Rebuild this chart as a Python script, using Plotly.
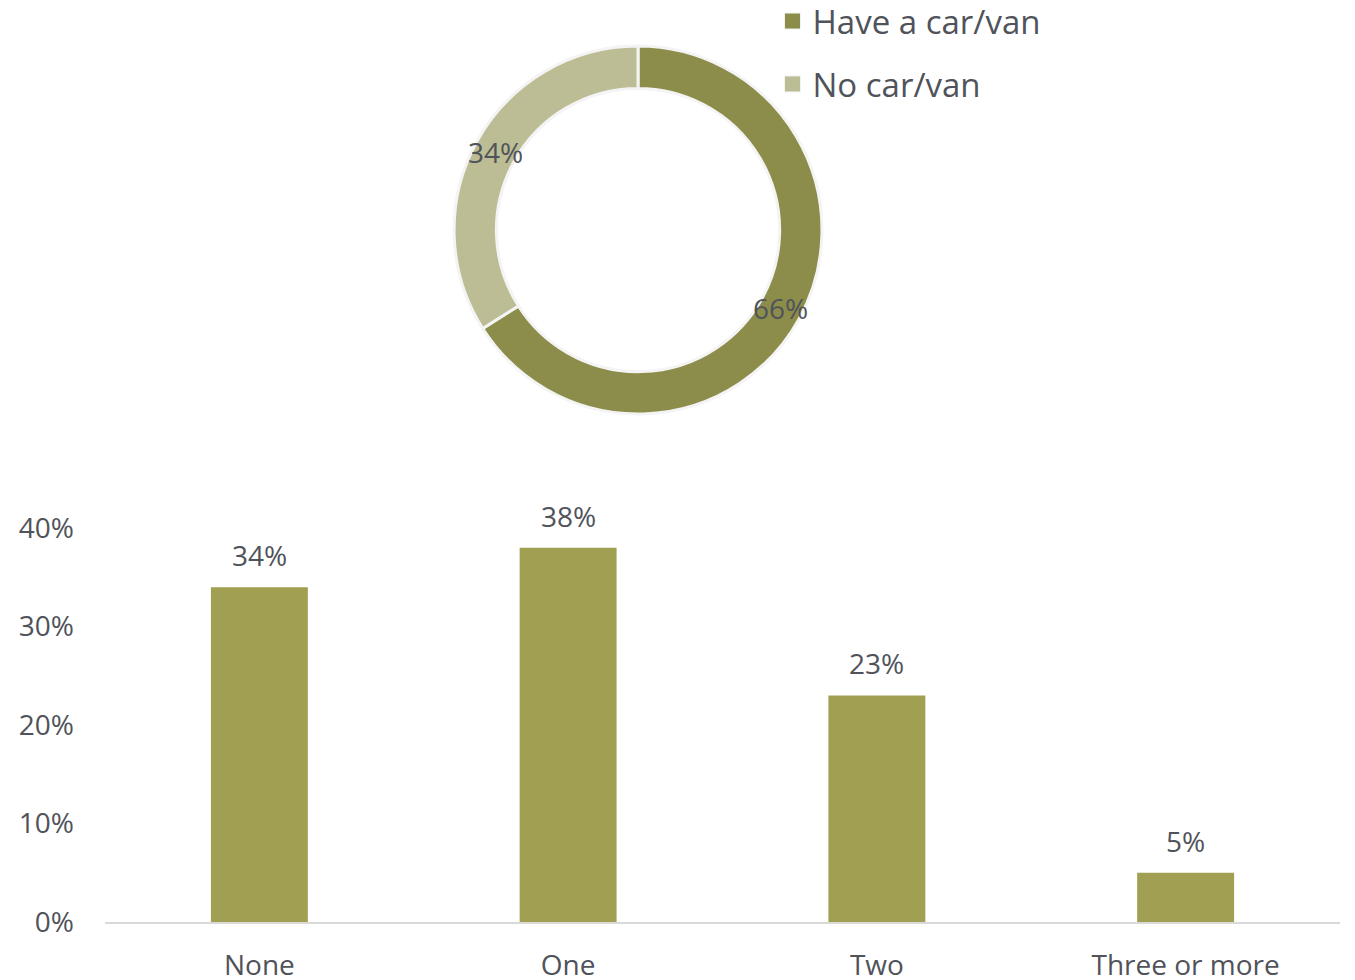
import math
import plotly.graph_objects as go

# Car/van availability split (donut)
ownership_labels = ["Have a car/van", "No car/van"]
ownership_values = [66, 34]
ownership_colors = ["#8C8D4A", "#BCBD95"]

# Number of cars/vans per household (bars)
car_categories = ["None", "One", "Two", "Three or more"]
car_shares = [34, 38, 23, 5]

y_ticks = [0, 10, 20, 30, 40]
y_tick_text = ["0%", "10%", "20%", "30%", "40%"]

FONT = "Open Sans"
TEXT = "#50535A"

W, H = 1355, 980
M_L, M_R, M_T, M_B = 105, 15, 0, 58
PLOT_W = W - M_L - M_R
PLOT_H = H - M_T - M_B

PIE_X = [0.2826, 0.5806]
PIE_Y = [0.551, 0.950]
HOLE = 0.77

fig = go.Figure()

fig.add_trace(go.Bar(
    x=car_categories,
    y=car_shares,
    marker=dict(color="#A1A052", line=dict(width=0)),
    showlegend=False,
))

# Value labels above each bar
for cat, val in zip(car_categories, car_shares):
    fig.add_annotation(
        x=cat, y=val, xref="x", yref="y",
        xanchor="center", yanchor="middle", yshift=32,
        text=f"{val}%", showarrow=False,
        font=dict(family=FONT, size=28, color=TEXT),
    )

fig.add_trace(go.Pie(
    labels=ownership_labels,
    values=ownership_values,
    hole=HOLE,
    sort=False,
    direction="clockwise",
    rotation=0,
    marker=dict(colors=ownership_colors, line=dict(color="#F4F4F4", width=3)),
    textinfo="none",
    domain=dict(x=PIE_X, y=PIE_Y),
    showlegend=False,
))

# Percent labels sit on the middle of the ring at each slice's mid-angle
cx = (PIE_X[0] + PIE_X[1]) / 2
cy = (PIE_Y[0] + PIE_Y[1]) / 2
outer_px = min((PIE_X[1] - PIE_X[0]) * PLOT_W, (PIE_Y[1] - PIE_Y[0]) * PLOT_H) / 2
mid_px = outer_px * (1 + HOLE) / 2
total = sum(ownership_values)
running = 0
for v in ownership_values:
    theta = 2 * math.pi * (running + v / 2) / total
    running += v
    fig.add_annotation(
        x=cx + mid_px * math.sin(theta) / PLOT_W,
        y=cy + mid_px * math.cos(theta) / PLOT_H,
        xref="paper", yref="paper",
        xanchor="center", yanchor="middle",
        text=f"{v}%", showarrow=False,
        font=dict(family=FONT, size=28, color=TEXT),
    )

# Legend entries for the donut slices
for i, (lab, col) in enumerate(zip(ownership_labels, ownership_colors)):
    fig.add_trace(go.Scatter(
        x=[car_categories[0]], y=[None], mode="markers", name=lab,
        legendgroup=f"g{i}",
        marker=dict(symbol="square", size=17, color=col, line=dict(color="#F2F2F2", width=1)),
        showlegend=True,
    ))

fig.update_layout(
    width=W,
    height=H,
    margin=dict(l=M_L, r=M_R, t=M_T, b=M_B, autoexpand=False),
    paper_bgcolor="white",
    plot_bgcolor="white",
    font=dict(family=FONT, color=TEXT, size=28),
    bargap=0.686,
    legend=dict(
        x=0.5405, y=1.0075, xanchor="left", yanchor="top",
        font=dict(family=FONT, size=33, color=TEXT),
        bgcolor="rgba(0,0,0,0)",
        tracegroupgap=17,
        itemwidth=30,
    ),
    xaxis=dict(
        type="category",
        categoryarray=car_categories,
        showgrid=False,
        showline=True,
        linecolor="#D9D9D9",
        linewidth=2,
        ticks="",
        automargin=False,
        tickfont=dict(family=FONT, size=28, color=TEXT),
        ticklabelstandoff=17,
    ),
    yaxis=dict(
        domain=[0, 0.4273],
        range=[0, 40],
        tickvals=y_ticks,
        ticktext=y_tick_text,
        showgrid=False,
        zeroline=False,
        showline=False,
        ticks="",
        automargin=False,
        tickfont=dict(family=FONT, size=28, color=TEXT),
        ticklabelstandoff=30,
    ),
)

fig.write_html("out.html")
